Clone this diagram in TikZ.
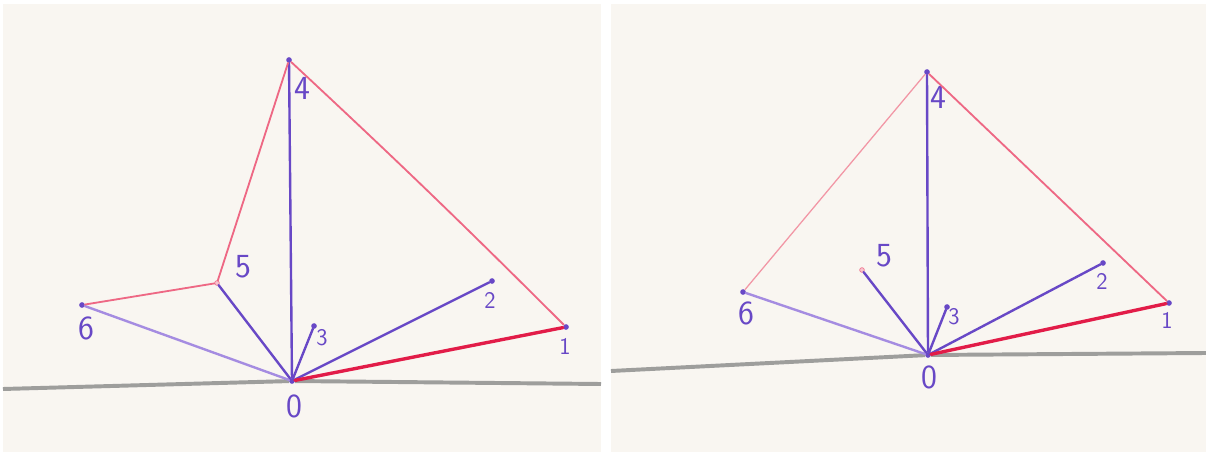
\documentclass[tikz,border=0pt]{standalone}
\usepackage{tikz}
\definecolor{board}{RGB}{249,246,241}
\definecolor{inkpurple}{RGB}{104,72,198}
\definecolor{inklilac}{RGB}{165,140,225}
\definecolor{inkpink}{RGB}{238,104,132}
\definecolor{inkrose}{RGB}{242,150,165}
\definecolor{inkred}{RGB}{226,28,72}
\definecolor{rail}{RGB}{158,158,156}

\begin{document}
\begin{tikzpicture}[
  x=0.025cm, y=-0.025cm,
  vert/.style ={circle, fill=inkpurple, inner sep=0pt, minimum size=4pt},
  pvert/.style={circle, draw=inkpink, fill=inkpink!40, inner sep=0pt, minimum size=3.4pt},
  big/.style  ={text=inkpurple, font=\sffamily\fontsize{24}{26}\selectfont, inner sep=0pt},
  small/.style={text=inkpurple, font=\sffamily\fontsize{17}{19}\selectfont, inner sep=0pt},
  spoke/.style={draw=inkpurple, line width=1.7pt, line cap=round},
  soft/.style ={draw=inklilac, line width=1.7pt, line cap=round},
  rim/.style  ={draw=inkpink, line width=1.3pt, line cap=round},
  thin/.style ={draw=inkrose, line width=0.9pt, line cap=round},
  base/.style ={draw=inkred, line width=2.4pt, line cap=round},
  ground/.style={draw=rail, line width=2.8pt},
]
\useasboundingbox (0,0) rectangle (1206,453);
\fill[white] (0,0) rectangle (1206,453);

% two whiteboard photos
\fill[board] (3,4) rectangle (601,452);
\fill[board] (611,4) rectangle (1206,452);

% left panel -- vertices
\node[vert]  (lO) at (292,381) {};
\node[vert]  (l1) at (566,327) {};
\node[vert]  (l2) at (492,281) {};
\node[vert]  (l3) at (314,326) {};
\node[vert]  (l4) at (289,60) {};
\node[pvert] (l5) at (217,283) {};
\node[vert]  (l6) at (82,305) {};
\coordinate (lgA) at (3,389);
\coordinate (lgB) at (601,384);

% left panel -- labels
\node[big]   (lt0) at (294,406) {0};
\node[small] (lt1) at (565,346) {1};
\node[small] (lt2) at (490,300) {2};
\node[small] (lt3) at (322,338) {3};
\node[big]   (lt4) at (302,88)  {4};
\node[big]   (lt5) at (243,267) {5};
\node[big]   (lt6) at (86,328)  {6};

% left panel -- lines
\draw[ground] (lgA) -- (lO) -- (lgB);
\draw[soft]  (lO) -- (l6);
\draw[spoke] (lO) -- (l5);
\draw[spoke] (lO) -- (l4);
\draw[spoke] (lO) -- (l3);
\draw[spoke] (lO) -- (l2);
\draw[rim]   (l6) -- (l5);
\draw[rim]   (l5) -- (l4);
\draw[rim]   (l4) to[bend left=1] (l1);
\draw[base]  (lO) -- (l1);

% right panel -- vertices
\node[vert]  (rO) at (928,355) {};
\node[vert]  (r1) at (1169,303) {};
\node[vert]  (r2) at (1103,263) {};
\node[vert]  (r3) at (947,307) {};
\node[vert]  (r4) at (927,72) {};
\node[pvert] (r5) at (862,270) {};
\node[vert]  (r6) at (743,292) {};
\coordinate (rgA) at (611,371);
\coordinate (rgB) at (1206,353);

% right panel -- labels
\node[big]   (rt0) at (929,377) {0};
\node[small] (rt1) at (1167,320) {1};
\node[small] (rt2) at (1102,281) {2};
\node[small] (rt3) at (954,317) {3};
\node[big]   (rt4) at (938,97)  {4};
\node[big]   (rt5) at (884,256) {5};
\node[big]   (rt6) at (746,313) {6};

% right panel -- lines
\draw[ground] (rgA) -- (rO) -- (rgB);
\draw[soft]  (rO) -- (r6);
\draw[spoke] (rO) -- (r5);
\draw[spoke] (rO) -- (r4);
\draw[spoke] (rO) -- (r3);
\draw[spoke] (rO) -- (r2);
\draw[thin]  (r6) -- (r4);
\draw[rim]   (r4) -- (r1);
\draw[base]  (rO) -- (r1);
\end{tikzpicture}
\end{document}
